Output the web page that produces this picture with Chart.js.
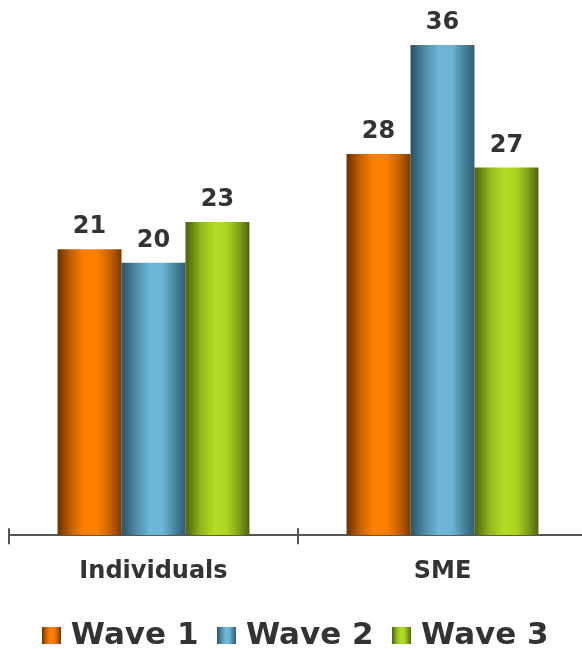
<!DOCTYPE html>
<html>
<head>
<meta charset="utf-8">
<script src="https://cdn.jsdelivr.net/npm/chart.js@4"></script>
<style>
  html, body { margin: 0; padding: 0; background: #fff; overflow: hidden; }
  #wrap { width: 590px; height: 649px; }
</style>
</head>
<body>
<div id="wrap"><canvas id="grafico"></canvas></div>
<script>
// datos
const categorias = ['Individuals', 'SME'];
const series = ['Wave 1', 'Wave 2', 'Wave 3'];
const wave1 = [21, 28];
const wave2 = [20, 36];
const wave3 = [23, 27];

const CAT_PCT = 0.664;
const textoColor = '#333333';

// degradados horizontales de cada serie (efecto cilindro)
const paradas = [
  [[0, '#6a3100'], [0.22, '#c86200'], [0.42, '#ff8000'], [0.62, '#ff8000'], [0.82, '#c66100'], [1, '#7a3a00']],
  [[0, '#2d5264'], [0.25, '#5291ad'], [0.45, '#6db8d8'], [0.65, '#6ab3d3'], [0.85, '#447f99'], [1, '#325d70']],
  [[0, '#4c610f'], [0.25, '#93ba1c'], [0.45, '#b2dc24'], [0.65, '#acd522'], [0.85, '#7c9c18'], [1, '#506612']]
];

function degradado(ctx2d, x0, x1, i) {
  const g = ctx2d.createLinearGradient(x0, 0, x1, 0);
  paradas[i].forEach(p => g.addColorStop(p[0], p[1]));
  return g;
}

function rellenoBarra(context) {
  const chart = context.chart;
  const xs = chart.scales.x;
  if (!xs || context.dataIndex === undefined) return paradas[context.datasetIndex][2][1];
  const cat = xs.width / categorias.length;
  const ancho = cat * CAT_PCT / series.length;
  const izq = xs.getPixelForValue(context.dataIndex) - cat * CAT_PCT / 2 + context.datasetIndex * ancho;
  return degradado(chart.ctx, izq, izq + ancho, context.datasetIndex);
}

// iconos de la leyenda
const iconos = series.map((_, i) => {
  const c = document.createElement('canvas');
  c.width = 19;
  c.height = 17;
  const cx = c.getContext('2d');
  cx.fillStyle = degradado(cx, 0, 19, i);
  cx.fillRect(0, 0, 19, 17);
  return c;
});

const etiquetasValor = {
  id: 'etiquetasValor',
  afterDatasetsDraw(chart) {
    const ctx = chart.ctx;
    ctx.save();
    ctx.font = 'bold 24px "DejaVu Sans"';
    ctx.fillStyle = textoColor;
    ctx.textAlign = 'center';
    ctx.textBaseline = 'alphabetic';
    chart.data.datasets.forEach((ds, i) => {
      chart.getDatasetMeta(i).data.forEach((bar, j) => {
        ctx.fillText(ds.data[j], bar.x, bar.y - 16);
      });
    });
    ctx.restore();
  }
};

// marcas del eje que cruzan la línea
const marcasEje = {
  id: 'marcasEje',
  afterDraw(chart) {
    const xs = chart.scales.x;
    const ctx = chart.ctx;
    const cat = xs.width / categorias.length;
    ctx.save();
    ctx.strokeStyle = '#555555';
    ctx.lineWidth = 2;
    for (let i = 0; i <= categorias.length; i++) {
      const px = Math.round(xs.left + i * cat);
      ctx.beginPath();
      ctx.moveTo(px, xs.top - 7);
      ctx.lineTo(px, xs.top + 9);
      ctx.stroke();
    }
    ctx.restore();
  }
};

new Chart(document.getElementById('grafico'), {
  type: 'bar',
  data: {
    labels: categorias,
    datasets: [
      { label: series[0], data: wave1, backgroundColor: rellenoBarra },
      { label: series[1], data: wave2, backgroundColor: rellenoBarra },
      { label: series[2], data: wave3, backgroundColor: rellenoBarra }
    ]
  },
  options: {
    responsive: true,
    maintainAspectRatio: false,
    animation: false,
    categoryPercentage: CAT_PCT,
    barPercentage: 1,
    borderWidth: 0,
    layout: { padding: { left: 9, right: 3, top: 0, bottom: -12 } },
    plugins: {
      tooltip: { enabled: false },
      legend: {
        display: true,
        position: 'bottom',
        labels: {
          usePointStyle: true,
          pointStyleWidth: 8,
          padding: 24,
          color: textoColor,
          font: { family: 'DejaVu Sans', size: 31, weight: 'bold' },
          generateLabels: chart => chart.data.datasets.map((ds, i) => ({
            text: ds.label,
            pointStyle: iconos[i],
            fillStyle: 'transparent',
            strokeStyle: 'transparent',
            lineWidth: 0,
            fontColor: textoColor,
            hidden: false,
            datasetIndex: i
          }))
        }
      }
    },
    scales: {
      x: {
        afterFit(scale) { scale.height -= 12; },
        grid: { display: true, drawOnChartArea: false, drawTicks: false, offset: true },
        border: { display: true, color: '#555555', width: 2 },
        ticks: {
          color: textoColor,
          padding: 22,
          font: { family: 'DejaVu Sans', size: 24, weight: 'bold' }
        }
      },
      y: {
        display: false,
        min: 0,
        max: 39.3
      }
    }
  },
  plugins: [etiquetasValor, marcasEje]
});
</script>
</body>
</html>
